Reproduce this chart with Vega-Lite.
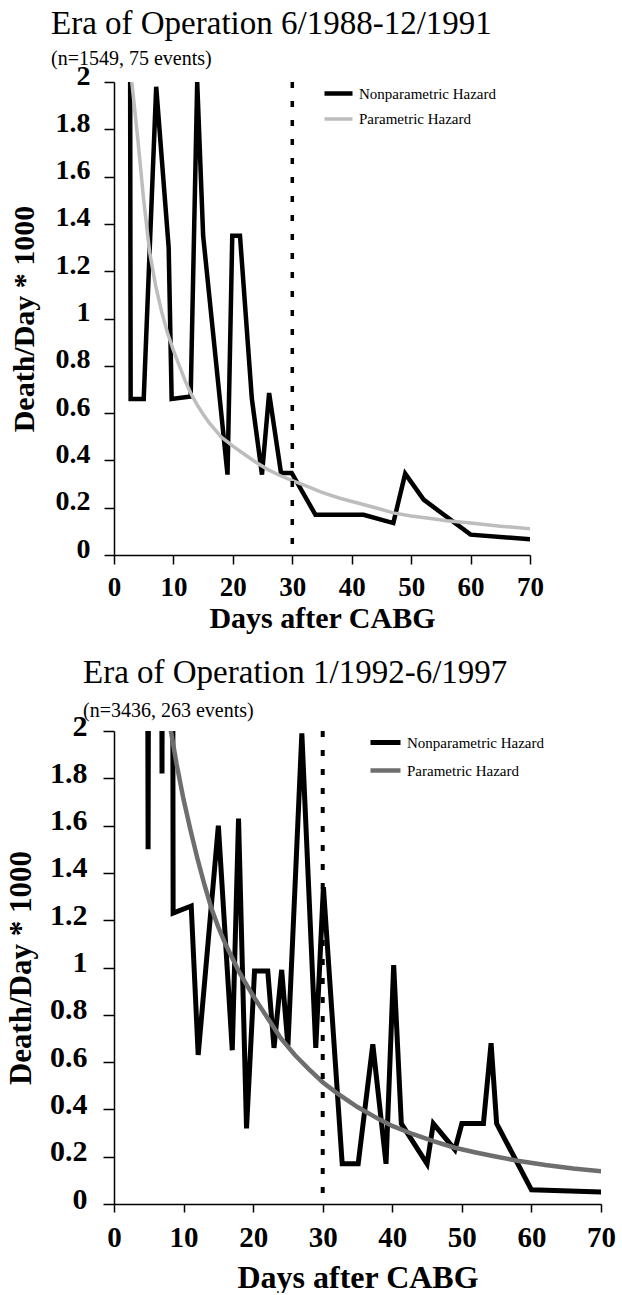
{
  "$schema": "https://vega.github.io/schema/vega-lite/v6.json",
  "background": "white",
  "padding": {"left": 5, "top": 8, "right": 5, "bottom": 0},
  "spacing": 24,
  "resolve": {
    "scale": {"color": "independent", "strokeWidth": "independent", "x": "independent", "y": "independent"},
    "legend": {"color": "independent", "strokeWidth": "independent"}
  },
  "config": {
    "font": "Liberation Serif",
    "view": {"stroke": null},
    "axis": {
      "grid": false,
      "domainColor": "black",
      "tickColor": "black",
      "labelColor": "black",
      "titleColor": "black",
      "labelFont": "Liberation Serif",
      "titleFont": "Liberation Serif",
      "labelFontWeight": "bold",
      "titleFontWeight": "bold",
      "domainWidth": 1.5,
      "tickWidth": 1.5,
      "labelOverlap": false
    },
    "title": {
      "font": "Liberation Serif",
      "fontWeight": "normal",
      "anchor": "start",
      "color": "black",
      "subtitleFont": "Liberation Serif",
      "subtitleColor": "black",
      "subtitleFontWeight": "normal"
    },
    "legend": {
      "labelFont": "Liberation Serif",
      "labelColor": "black",
      "labelFontWeight": "normal"
    }
  },
  "datasets": {
    "era1": [
      {"day": 2.3, "hazard": 9, "series": "Nonparametric Hazard"},
      {"day": 2.8, "hazard": 0.66, "series": "Nonparametric Hazard"},
      {"day": 5.0, "hazard": 0.66, "series": "Nonparametric Hazard"},
      {"day": 7.1, "hazard": 1.98, "series": "Nonparametric Hazard"},
      {"day": 9.2, "hazard": 1.3, "series": "Nonparametric Hazard"},
      {"day": 9.7, "hazard": 0.66, "series": "Nonparametric Hazard"},
      {"day": 12.9, "hazard": 0.67, "series": "Nonparametric Hazard"},
      {"day": 14.0, "hazard": 2.0, "series": "Nonparametric Hazard"},
      {"day": 15.0, "hazard": 1.35, "series": "Nonparametric Hazard"},
      {"day": 19.1, "hazard": 0.34, "series": "Nonparametric Hazard"},
      {"day": 19.9, "hazard": 1.35, "series": "Nonparametric Hazard"},
      {"day": 21.2, "hazard": 1.35, "series": "Nonparametric Hazard"},
      {"day": 23.2, "hazard": 0.66, "series": "Nonparametric Hazard"},
      {"day": 24.9, "hazard": 0.34, "series": "Nonparametric Hazard"},
      {"day": 26.1, "hazard": 0.685, "series": "Nonparametric Hazard"},
      {"day": 28.1, "hazard": 0.347, "series": "Nonparametric Hazard"},
      {"day": 29.9, "hazard": 0.347, "series": "Nonparametric Hazard"},
      {"day": 33.9, "hazard": 0.17, "series": "Nonparametric Hazard"},
      {"day": 42.0, "hazard": 0.17, "series": "Nonparametric Hazard"},
      {"day": 47.0, "hazard": 0.135, "series": "Nonparametric Hazard"},
      {"day": 49.0, "hazard": 0.344, "series": "Nonparametric Hazard"},
      {"day": 52.1, "hazard": 0.234, "series": "Nonparametric Hazard"},
      {"day": 60.0, "hazard": 0.086, "series": "Nonparametric Hazard"},
      {"day": 70.6, "hazard": 0.065, "series": "Nonparametric Hazard"},
      {"day": 2.5, "hazard": 2.15, "series": "Parametric Hazard"},
      {"day": 3, "hazard": 2.0, "series": "Parametric Hazard"},
      {"day": 4, "hazard": 1.76, "series": "Parametric Hazard"},
      {"day": 5, "hazard": 1.5, "series": "Parametric Hazard"},
      {"day": 6, "hazard": 1.28, "series": "Parametric Hazard"},
      {"day": 7, "hazard": 1.14, "series": "Parametric Hazard"},
      {"day": 8, "hazard": 1.03, "series": "Parametric Hazard"},
      {"day": 9, "hazard": 0.94, "series": "Parametric Hazard"},
      {"day": 10, "hazard": 0.865, "series": "Parametric Hazard"},
      {"day": 11, "hazard": 0.8, "series": "Parametric Hazard"},
      {"day": 12, "hazard": 0.735, "series": "Parametric Hazard"},
      {"day": 13, "hazard": 0.68, "series": "Parametric Hazard"},
      {"day": 14, "hazard": 0.635, "series": "Parametric Hazard"},
      {"day": 15, "hazard": 0.595, "series": "Parametric Hazard"},
      {"day": 16, "hazard": 0.56, "series": "Parametric Hazard"},
      {"day": 17, "hazard": 0.53, "series": "Parametric Hazard"},
      {"day": 18, "hazard": 0.5, "series": "Parametric Hazard"},
      {"day": 19, "hazard": 0.48, "series": "Parametric Hazard"},
      {"day": 20, "hazard": 0.46, "series": "Parametric Hazard"},
      {"day": 22, "hazard": 0.425, "series": "Parametric Hazard"},
      {"day": 24, "hazard": 0.39, "series": "Parametric Hazard"},
      {"day": 26, "hazard": 0.36, "series": "Parametric Hazard"},
      {"day": 28, "hazard": 0.335, "series": "Parametric Hazard"},
      {"day": 30, "hazard": 0.315, "series": "Parametric Hazard"},
      {"day": 32, "hazard": 0.295, "series": "Parametric Hazard"},
      {"day": 35, "hazard": 0.265, "series": "Parametric Hazard"},
      {"day": 38, "hazard": 0.24, "series": "Parametric Hazard"},
      {"day": 41, "hazard": 0.22, "series": "Parametric Hazard"},
      {"day": 44, "hazard": 0.2, "series": "Parametric Hazard"},
      {"day": 47, "hazard": 0.178, "series": "Parametric Hazard"},
      {"day": 50, "hazard": 0.165, "series": "Parametric Hazard"},
      {"day": 53, "hazard": 0.155, "series": "Parametric Hazard"},
      {"day": 56, "hazard": 0.145, "series": "Parametric Hazard"},
      {"day": 60, "hazard": 0.135, "series": "Parametric Hazard"},
      {"day": 65, "hazard": 0.122, "series": "Parametric Hazard"},
      {"day": 70.5, "hazard": 0.11, "series": "Parametric Hazard"}
    ],
    "era2": [
      {"day": 4.5, "hazard": 7, "series": "Nonparametric Hazard"},
      {"day": 4.9, "hazard": 1.5, "series": "Nonparametric Hazard"},
      {"day": 5.3, "hazard": 7, "series": "Nonparametric Hazard"},
      {"day": 6.5, "hazard": 7, "series": "Nonparametric Hazard"},
      {"day": 6.9, "hazard": 1.82, "series": "Nonparametric Hazard"},
      {"day": 7.3, "hazard": 7, "series": "Nonparametric Hazard"},
      {"day": 8.2, "hazard": 7, "series": "Nonparametric Hazard"},
      {"day": 8.5, "hazard": 1.23, "series": "Nonparametric Hazard"},
      {"day": 11.1, "hazard": 1.26, "series": "Nonparametric Hazard"},
      {"day": 12.1, "hazard": 0.63, "series": "Nonparametric Hazard"},
      {"day": 15.0, "hazard": 1.6, "series": "Nonparametric Hazard"},
      {"day": 17.0, "hazard": 0.65, "series": "Nonparametric Hazard"},
      {"day": 17.9, "hazard": 1.63, "series": "Nonparametric Hazard"},
      {"day": 19.05, "hazard": 0.32, "series": "Nonparametric Hazard"},
      {"day": 20.2, "hazard": 0.985, "series": "Nonparametric Hazard"},
      {"day": 22.1, "hazard": 0.985, "series": "Nonparametric Hazard"},
      {"day": 23.0, "hazard": 0.66, "series": "Nonparametric Hazard"},
      {"day": 24.1, "hazard": 0.99, "series": "Nonparametric Hazard"},
      {"day": 25.0, "hazard": 0.67, "series": "Nonparametric Hazard"},
      {"day": 27.0, "hazard": 1.99, "series": "Nonparametric Hazard"},
      {"day": 29.0, "hazard": 0.66, "series": "Nonparametric Hazard"},
      {"day": 30.1, "hazard": 1.34, "series": "Nonparametric Hazard"},
      {"day": 32.8, "hazard": 0.17, "series": "Nonparametric Hazard"},
      {"day": 35.1, "hazard": 0.17, "series": "Nonparametric Hazard"},
      {"day": 37.2, "hazard": 0.675, "series": "Nonparametric Hazard"},
      {"day": 39.1, "hazard": 0.17, "series": "Nonparametric Hazard"},
      {"day": 40.2, "hazard": 1.01, "series": "Nonparametric Hazard"},
      {"day": 41.3, "hazard": 0.34, "series": "Nonparametric Hazard"},
      {"day": 45.0, "hazard": 0.17, "series": "Nonparametric Hazard"},
      {"day": 45.9, "hazard": 0.34, "series": "Nonparametric Hazard"},
      {"day": 49.0, "hazard": 0.23, "series": "Nonparametric Hazard"},
      {"day": 50.0, "hazard": 0.34, "series": "Nonparametric Hazard"},
      {"day": 53.1, "hazard": 0.34, "series": "Nonparametric Hazard"},
      {"day": 54.2, "hazard": 0.68, "series": "Nonparametric Hazard"},
      {"day": 55.0, "hazard": 0.34, "series": "Nonparametric Hazard"},
      {"day": 60.0, "hazard": 0.06, "series": "Nonparametric Hazard"},
      {"day": 70.8, "hazard": 0.05, "series": "Nonparametric Hazard"},
      {"day": 7, "hazard": 2.2, "series": "Parametric Hazard"},
      {"day": 8, "hazard": 2.03, "series": "Parametric Hazard"},
      {"day": 9, "hazard": 1.86, "series": "Parametric Hazard"},
      {"day": 10, "hazard": 1.71, "series": "Parametric Hazard"},
      {"day": 11, "hazard": 1.58, "series": "Parametric Hazard"},
      {"day": 12, "hazard": 1.46, "series": "Parametric Hazard"},
      {"day": 13, "hazard": 1.35, "series": "Parametric Hazard"},
      {"day": 14, "hazard": 1.25, "series": "Parametric Hazard"},
      {"day": 15, "hazard": 1.17, "series": "Parametric Hazard"},
      {"day": 16, "hazard": 1.1, "series": "Parametric Hazard"},
      {"day": 17, "hazard": 1.04, "series": "Parametric Hazard"},
      {"day": 18, "hazard": 0.98, "series": "Parametric Hazard"},
      {"day": 19, "hazard": 0.93, "series": "Parametric Hazard"},
      {"day": 20, "hazard": 0.88, "series": "Parametric Hazard"},
      {"day": 22, "hazard": 0.79, "series": "Parametric Hazard"},
      {"day": 24, "hazard": 0.7, "series": "Parametric Hazard"},
      {"day": 26, "hazard": 0.63, "series": "Parametric Hazard"},
      {"day": 28, "hazard": 0.57, "series": "Parametric Hazard"},
      {"day": 30, "hazard": 0.515, "series": "Parametric Hazard"},
      {"day": 32, "hazard": 0.47, "series": "Parametric Hazard"},
      {"day": 35, "hazard": 0.41, "series": "Parametric Hazard"},
      {"day": 38, "hazard": 0.36, "series": "Parametric Hazard"},
      {"day": 40, "hazard": 0.33, "series": "Parametric Hazard"},
      {"day": 43, "hazard": 0.295, "series": "Parametric Hazard"},
      {"day": 46, "hazard": 0.265, "series": "Parametric Hazard"},
      {"day": 49, "hazard": 0.238, "series": "Parametric Hazard"},
      {"day": 52, "hazard": 0.218, "series": "Parametric Hazard"},
      {"day": 55, "hazard": 0.2, "series": "Parametric Hazard"},
      {"day": 58, "hazard": 0.183, "series": "Parametric Hazard"},
      {"day": 62, "hazard": 0.165, "series": "Parametric Hazard"},
      {"day": 66, "hazard": 0.15, "series": "Parametric Hazard"},
      {"day": 71, "hazard": 0.136, "series": "Parametric Hazard"}
    ]
  },
  "vconcat": [
    {
      "width": 416,
      "height": 473,
      "title": {
        "text": "Era of Operation 6/1988-12/1991",
        "subtitle": "(n=1549, 75 events)",
        "fontSize": 33,
        "subtitleFontSize": 20,
        "frame": "group",
        "dx": -63,
        "offset": -7,
        "subtitlePadding": 8
      },
      "layer": [
        {
          "data": {"name": "era1"},
          "mark": {"type": "line", "clip": true},
          "encoding": {
            "x": {
              "field": "day", "type": "quantitative",
              "scale": {"domain": [0, 70], "nice": false},
              "axis": {
                "title": "Days after CABG",
                "values": [0, 10, 20, 30, 40, 50, 60, 70],
                "labelFontSize": 27, "titleFontSize": 30,
                "tickSize": 9, "labelPadding": 10, "titlePadding": 3,
                "labelFlush": false
              }
            },
            "y": {
              "field": "hazard", "type": "quantitative",
              "scale": {"domain": [0, 2], "nice": false},
              "axis": {
                "title": "Death/Day * 1000",
                "values": [0, 0.2, 0.4, 0.6, 0.8, 1, 1.2, 1.4, 1.6, 1.8, 2],
                "format": "~g",
                "labelFontSize": 28, "titleFontSize": 30,
                "tickSize": 10, "labelPadding": 14, "labelOffset": -6,
                "titlePadding": 16
              }
            },
            "color": {
              "field": "series", "type": "nominal",
              "scale": {"domain": ["Nonparametric Hazard", "Parametric Hazard"], "range": ["#000000", "#bdbdbd"]},
              "legend": {
                "title": null, "orient": "none", "legendX": 208, "legendY": -5,
                "labelFontSize": 15, "symbolType": "stroke", "symbolSize": 784,
                "symbolStrokeWidth": 2.5, "rowPadding": 0, "labelOffset": 4, "padding": 0
              }
            },
            "strokeWidth": {
              "field": "series", "type": "nominal",
              "scale": {"domain": ["Nonparametric Hazard", "Parametric Hazard"], "range": [4.5, 3.5]},
              "legend": null
            }
          }
        },
        {
          "data": {"values": [{"day": 30}]},
          "mark": {"type": "rule", "color": "black", "strokeWidth": 3.5, "strokeDash": [6, 13]},
          "encoding": {"x": {"field": "day", "type": "quantitative"}}
        }
      ]
    },
    {
      "width": 487,
      "height": 473,
      "title": {
        "text": "Era of Operation 1/1992-6/1997",
        "subtitle": "(n=3436, 263 events)",
        "fontSize": 33,
        "subtitleFontSize": 20,
        "frame": "group",
        "dx": -31,
        "offset": -10,
        "subtitlePadding": 11
      },
      "layer": [
        {
          "data": {"name": "era2"},
          "mark": {"type": "line", "clip": true},
          "encoding": {
            "x": {
              "field": "day", "type": "quantitative",
              "scale": {"domain": [0, 70], "nice": false},
              "axis": {
                "title": "Days after CABG",
                "values": [0, 10, 20, 30, 40, 50, 60, 70],
                "labelFontSize": 29, "titleFontSize": 32,
                "tickSize": 8, "labelPadding": 11, "titlePadding": 10,
                "labelFlush": false
              }
            },
            "y": {
              "field": "hazard", "type": "quantitative",
              "scale": {"domain": [0, 2], "nice": false},
              "axis": {
                "title": "Death/Day * 1000",
                "values": [0, 0.2, 0.4, 0.6, 0.8, 1, 1.2, 1.4, 1.6, 1.8, 2],
                "format": "~g",
                "labelFontSize": 30, "titleFontSize": 31,
                "tickSize": 11, "labelPadding": 16, "labelOffset": -5,
                "titlePadding": 12
              }
            },
            "color": {
              "field": "series", "type": "nominal",
              "scale": {"domain": ["Nonparametric Hazard", "Parametric Hazard"], "range": ["#000000", "#6e6e6e"]},
              "legend": {
                "title": null, "orient": "none", "legendX": 254, "legendY": -6,
                "labelFontSize": 15, "symbolType": "stroke", "symbolSize": 900,
                "symbolStrokeWidth": 2.5, "rowPadding": -2, "labelOffset": 4, "padding": 0
              }
            },
            "strokeWidth": {
              "field": "series", "type": "nominal",
              "scale": {"domain": ["Nonparametric Hazard", "Parametric Hazard"], "range": [5, 4.5]},
              "legend": null
            }
          }
        },
        {
          "data": {"values": [{"day": 30}]},
          "mark": {"type": "rule", "color": "black", "strokeWidth": 4, "strokeDash": [6, 13]},
          "encoding": {"x": {"field": "day", "type": "quantitative"}}
        }
      ]
    }
  ]
}
